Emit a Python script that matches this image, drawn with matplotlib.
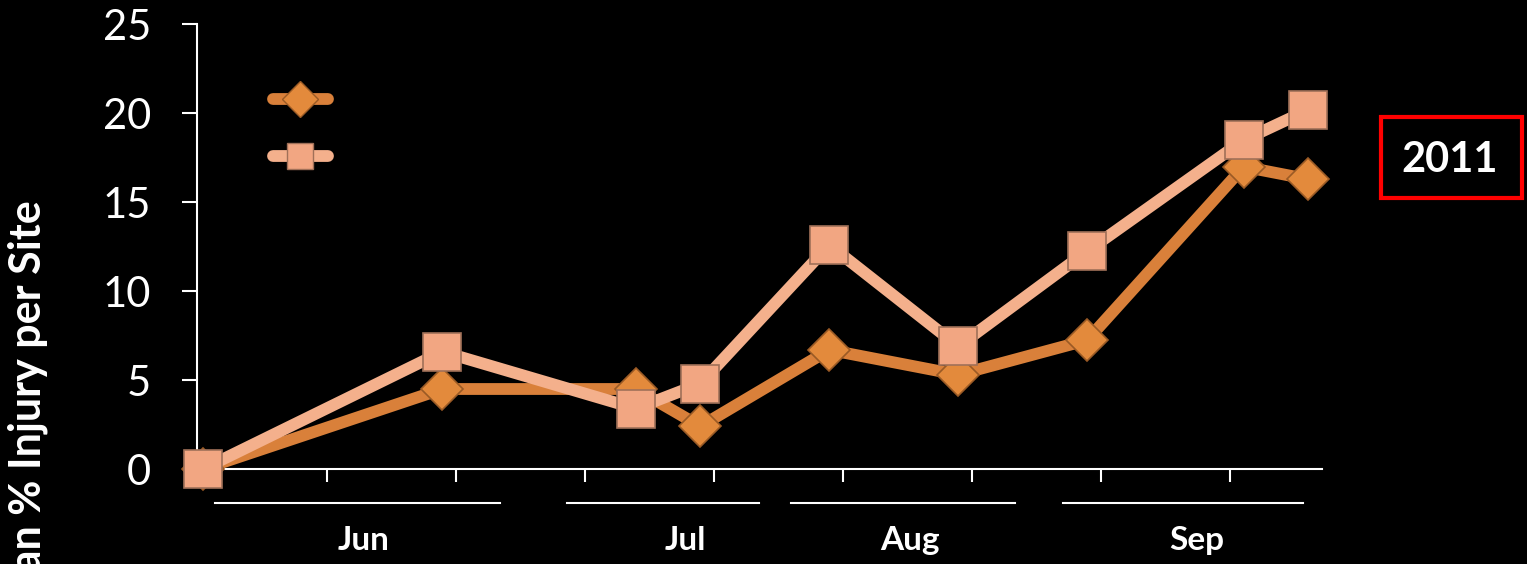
#!/usr/bin/env python3
"""Mean % injury per site, 2011 season (two series, black slide style)."""
import matplotlib
matplotlib.use("Agg")
import matplotlib.pyplot as plt
from matplotlib.lines import Line2D
from matplotlib.patches import Rectangle

plt.rcParams["font.family"] = ["Lato", "DejaVu Sans"]

# sampling day (days after first survey) and mean % injury
days = [0, 26, 47, 54, 68, 82, 96, 113, 120]
series_a = [0.0, 4.5, 4.5, 2.4, 6.7, 5.3, 7.25, 17.0, 16.3]     # diamonds
series_b = [0.0, 6.6, 3.4, 4.8, 12.6, 6.9, 12.25, 18.5, 20.2]   # squares

# minor date ticks and month group brackets (in days)
tick_days = [13.5, 27.5, 41.5, 55.5, 69.5, 83.5, 97.5, 111.5]
months = ["Jun", "Jul", "Aug", "Sep"]
month_spans = [(1.3, 32.2), (39.5, 60.4), (63.8, 88.2), (93.4, 119.4)]
month_label_x = [17.4, 52.4, 76.8, 107.9]
yticks = [0, 5, 10, 15, 20, 25]

DARK = "#D9803A"
DARK_FILL = "#E38A3C"
LIGHT = "#F4B08C"
LIGHT_FILL = "#F2A682"

fig = plt.figure(figsize=(15.27, 5.64), dpi=100, facecolor="black")
ax = fig.add_axes([0.129, 0.1684, 0.7368, 0.7882], facecolor="black")

ax.plot(days, series_a, color=DARK, lw=8.5, marker="D", ms=21,
        mfc=DARK_FILL, mec="#9A5A25", mew=1.2, clip_on=False, zorder=3)
ax.plot(days, series_b, color=LIGHT, lw=8.5, marker="s", ms=27,
        mfc=LIGHT_FILL, mec="#A07058", mew=1.2, clip_on=False, zorder=4)

ax.set_xlim(-0.65, 121.5)
ax.set_ylim(0, 25)
ax.set_yticks(yticks)
ax.set_xticks(tick_days)
ax.set_xticklabels([])
ax.tick_params(axis="y", colors="white", labelsize=30, length=11,
               width=1.5, pad=22)
ax.tick_params(axis="x", colors="white", length=9.5, width=1.5)
for side in ("top", "right"):
    ax.spines[side].set_visible(False)
for side in ("left", "bottom"):
    ax.spines[side].set_color("white")
    ax.spines[side].set_linewidth(1.5)

# month brackets under the axis
trans = ax.get_xaxis_transform()
for name, (x0, x1), xl in zip(months, month_spans, month_label_x):
    ax.plot([x0, x1], [-0.077, -0.077], color="white", lw=1.5,
            transform=trans, clip_on=False)
    ax.text(xl, -0.16, name, transform=trans, color="white", fontsize=24,
            fontweight="bold", ha="center", va="center")

# the slide crops this label at the bottom edge, as in the original
fig.text(28 / 1527, 1 - 418 / 564, "Mean % Injury per Site", rotation=90,
         color="white", fontsize=31, fontweight="bold",
         ha="center", va="center")

# legend with no visible labels
handles = [
    Line2D([], [], color=DARK, lw=8.5, solid_capstyle="round", marker="D",
           ms=18, mfc=DARK_FILL, mec="#9A5A25"),
    Line2D([], [], color=LIGHT, lw=8.5, solid_capstyle="round", marker="s",
           ms=19, mfc=LIGHT_FILL, mec="#A07058"),
]
ax.legend(handles, ["", ""], loc="upper left",
          bbox_to_anchor=(0.045, 0.915), frameon=False, fontsize=20,
          handlelength=2.0, labelspacing=1.15, handletextpad=0)

# year label in red box
fig.patches.append(Rectangle((1381 / 1527, 1 - 198 / 564), 141 / 1527,
                             81 / 564, transform=fig.transFigure,
                             fill=False, edgecolor="#FF0000", lw=3))
fig.text(1450 / 1527, 1 - 160 / 564, "2011", color="white", fontsize=30,
         fontweight="bold", ha="center", va="center")

fig.savefig("out.png", dpi=100, facecolor="black")
